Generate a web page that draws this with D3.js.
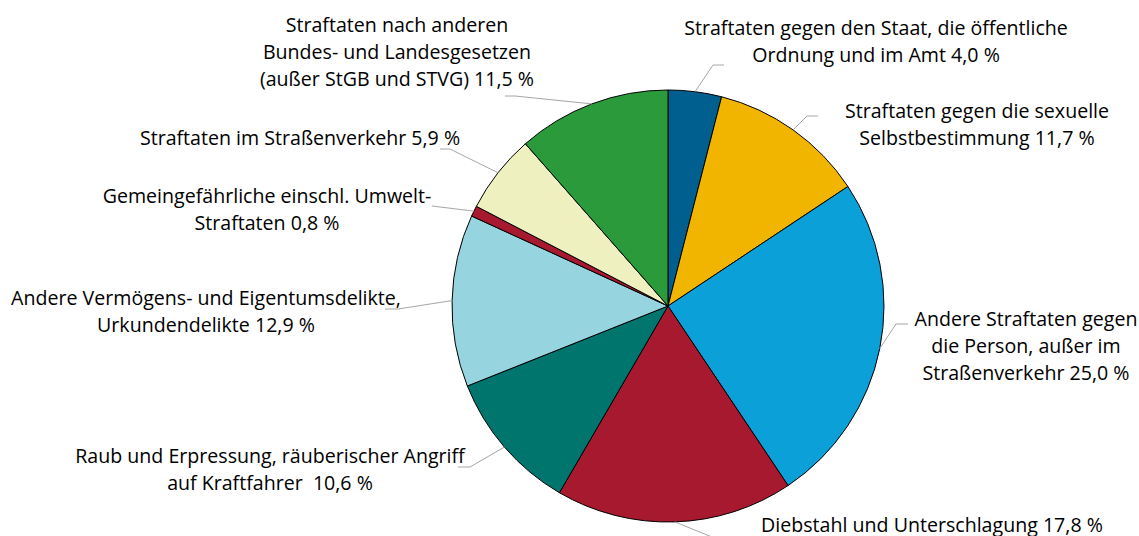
<!DOCTYPE html>
<html>
<head>
<meta charset="utf-8">
<script src="https://cdn.jsdelivr.net/npm/d3@7"></script>
<style>
  body { margin: 0; background: #fff; }
  text { font-family: "Open Sans", sans-serif; font-size: 19.6px; fill: #000; white-space: pre; }
</style>
</head>
<body>
<script>
const width = 1139;
const height = 536;

// clockwise from 12 o'clock
const categories = [
    ["Straftaten gegen den Staat, die öffentliche", "Ordnung und im Amt 4,0 %"],
    ["Straftaten gegen die sexuelle", "Selbstbestimmung 11,7 %"],
    ["Andere Straftaten gegen", "die Person, außer im", "Straßenverkehr 25,0 %"],
    ["Diebstahl und Unterschlagung 17,8 %"],
    ["Raub und Erpressung, räuberischer Angriff", "auf Kraftfahrer  10,6 %"],
    ["Andere Vermögens- und Eigentumsdelikte,", "Urkundendelikte 12,9 %"],
    ["Gemeingefährliche einschl. Umwelt-", "Straftaten 0,8 %"],
    ["Straftaten im Straßenverkehr 5,9 %"],
    ["Straftaten nach anderen", "Bundes- und Landesgesetzen", "(außer StGB und STVG) 11,5 %"]
];
const values = [4.0, 11.7, 25.0, 17.8, 10.6, 12.9, 0.8, 5.9, 11.5];
const colors = ["#005f8e", "#f1b500", "#0ba0d8", "#a6192e", "#00756d", "#96d4e0", "#a6192e", "#eef0c0", "#2a9a3b"];

// label block centre (x, y of first line) and leader elbow / end
const labelPos = [[876, 27], [977, 110], [1026, 318], [932, 524], [270, 455], [206, 297], [267, 195], [300, 137], [397, 24]];
const leaderPts = [
    [[713, 65], [724, 65]],
    [[807, 116], [818, 116]],
    [[896, 324], [908, 324]],
    [[712, 537], [730, 537]],
    [[470, 467], [458, 467]],
    [[398, 309], [385, 309]],
    [[432, 206], [432, 206]],
    [[450, 149], [440, 149]],
    [[515, 96], [505, 96]]
];
const lineH = 27;

const cx = 668, cy = 306, r = 216;

const svg = d3.select('body').append('svg')
    .attr('width', width)
    .attr('height', height);

const pie = d3.pie().sort(null).value(d => d);
const arcs = pie(values);
const arc = d3.arc().innerRadius(0).outerRadius(r);

const g = svg.append('g').attr('transform', `translate(${cx}, ${cy})`);

g.selectAll('path')
    .data(arcs)
    .enter()
    .append('path')
    .attr('d', arc)
    .attr('fill', (d, i) => colors[i])
    .attr('stroke', '#000')
    .attr('stroke-width', 1);

// leader lines
const edge = d3.arc().innerRadius(r).outerRadius(r);
svg.selectAll('polyline')
    .data(arcs)
    .enter()
    .append('polyline')
    .attr('points', (d, i) => {
        const c = edge.centroid(d);
        const p0 = [cx + c[0], cy + c[1]];
        return [p0, ...leaderPts[i]].map(p => p.join(',')).join(' ');
    })
    .attr('fill', 'none')
    .attr('stroke', '#a6a6a6')
    .attr('stroke-width', 1);

// labels
const labels = svg.selectAll('text.lbl')
    .data(categories)
    .enter()
    .append('text')
    .attr('class', 'lbl')
    .attr('text-anchor', 'middle')
    .attr('dominant-baseline', 'central');

labels.each(function(lines, i) {
    d3.select(this).selectAll('tspan')
        .data(lines)
        .enter()
        .append('tspan')
        .attr('x', labelPos[i][0])
        .attr('y', (l, j) => labelPos[i][1] + j * lineH)
        .text(l => l);
});
</script>
</body>
</html>
